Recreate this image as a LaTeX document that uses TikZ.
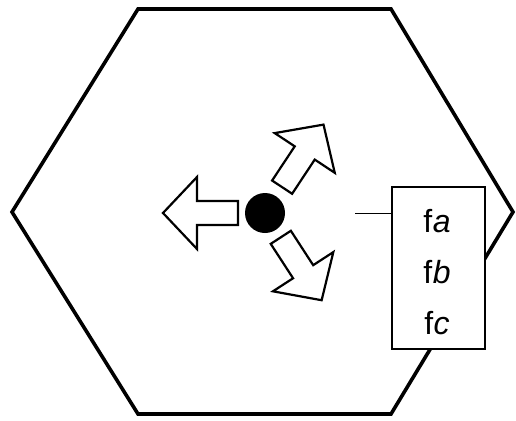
\documentclass[tikz,border=0pt]{standalone}
\usepackage{fontspec}
\setmainfont{Liberation Sans}
\begin{document}
\begin{tikzpicture}[x=1pt,y=-1pt,
  hexline/.style={line width=3.6pt,line join=miter},
  bigarrow/.style={draw=black,fill=white,line width=2.2pt,line join=miter},
  dot/.style={circle,fill=black,draw=none,minimum width=40pt,minimum height=38pt,inner sep=0pt},
  labelbox/.style={draw=black,fill=white,line width=1.8pt,minimum width=93pt,minimum height=162pt,inner sep=0pt},
  flabel/.style={font=\fontsize{32}{32}\selectfont,anchor=base,inner sep=0pt},
  thinline/.style={line width=1pt}]
\useasboundingbox (0,0) rectangle (516,420);
% hexagon
\draw[hexline] (138,9) -- (391,9) -- (513,212) -- (391,414) -- (138,414) -- (12,212) -- cycle;
% centre dot
\node[dot] (c) at (265,213) {};
% arrows
\foreach \ang/\off in {180/27, 56.5/31, -57/29}{
  \begin{scope}[shift={(c.center)},rotate=\ang]
    \draw[bigarrow] (\off,-12) -- (\off+41,-12) -- (\off+41,-36) -- (\off+75,0)
      -- (\off+41,36) -- (\off+41,12) -- (\off,12) -- cycle;
  \end{scope}
}
% label box
\node[labelbox] (box) at (438.4,268) {};
\node[flabel] (fa) at (437,232) {f\kern0.5pt{\itshape a}};
\node[flabel] (fb) at (437,283) {f\kern0.5pt{\itshape b}};
\node[flabel] (fc) at (437,334) {f\kern0.5pt{\itshape c}};
% pointer line
\coordinate (le) at (355,213);
\draw[thinline] (le) -- (le -| box.west);
\end{tikzpicture}
\end{document}
